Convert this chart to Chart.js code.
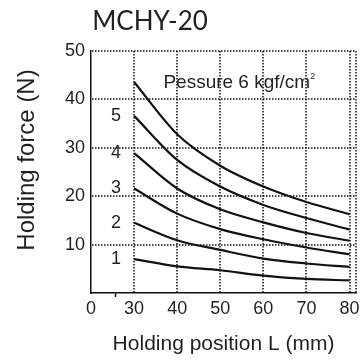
<!DOCTYPE html>
<html><head><meta charset="utf-8">
<script src="https://cdn.jsdelivr.net/npm/chart.js@4/dist/chart.umd.min.js"></script>
<style>html,body{margin:0;padding:0;background:#fff}#wrap{width:360px;height:360px;position:relative}</style>
</head><body><div id="wrap"><canvas id="c"></canvas></div>
<script>
// ---- data ----
const chartTitle = 'MCHY-20';
const positions = [30, 40, 50, 60, 70, 80];           // Holding position L (mm)
const force1 = [7.0, 5.5, 4.7, 3.6, 2.9, 2.6];
const force2 = [14.5, 10.9, 8.9, 7.1, 6.1, 5.4];
const force3 = [21.6, 16.4, 13.2, 11.1, 9.4, 8.0];
const force4 = [28.9, 21.6, 17.3, 14.6, 12.4, 10.8];
const force5 = [36.6, 27.5, 22.0, 18.2, 15.5, 13.1];
const force6 = [43.6, 32.8, 26.3, 22.0, 18.8, 16.3];
const curveNames = ['1', '2', '3', '4', '5', '6'];
const xTickValues = [20, 25.6, 30, 40, 50, 60, 70, 80, 81.5];
const xTickLabels = ['0', '', '30', '40', '50', '60', '70', '80', ''];
const yTickValues = [0, 10, 20, 30, 40, 50];
const pressureText = 'Pessure 6 kgf/cm';
const pressureSup = '2';
const xTitle = 'Holding position L (mm)';
const yTitle = 'Holding force (N)';

const allForces = [force1, force2, force3, force4, force5, force6];
const INK = '#231f20';
const NONE = 'rgba(0,0,0,0)';
const SANS = '"Liberation Sans", Arial, sans-serif';

const datasets = allForces.map((f, i) => ({
  label: curveNames[i],
  data: positions.map((x, j) => ({x, y: f[j]})),
  borderColor: '#111',
  borderWidth: 2.2,
  pointRadius: 0,
  fill: false,
  cubicInterpolationMode: 'monotone'
}));

const xTickMarkColors = xTickValues.map((v, i) => (i === 1 ? '#111' : NONE));

// dotted grid along the scales' own tick positions
const dottedGrid = {
  id: 'dottedGrid',
  beforeDatasetsDraw(chart) {
    const {ctx, chartArea: a} = chart;
    const xs = chart.scales.x, ys = chart.scales.y;
    ctx.save();
    ctx.strokeStyle = '#111';
    ctx.lineWidth = 1.5;
    ctx.setLineDash([1.5, 1.5]);
    xs.ticks.forEach((t, i) => {
      if (i < 2) return;
      const x = Math.round(xs.getPixelForValue(t.value));
      ctx.beginPath(); ctx.moveTo(x, a.top); ctx.lineTo(x, a.bottom); ctx.stroke();
    });
    ys.ticks.forEach((t, i) => {
      if (i === 0) return;
      const y = Math.round(ys.getPixelForValue(t.value));
      ctx.beginPath(); ctx.moveTo(a.left + 1, y); ctx.lineTo(a.right, y); ctx.stroke();
    });
    ctx.restore();
  }
};

const textPlugin = {
  id: 'texts',
  afterDraw(chart) {
    const ctx = chart.ctx;
    const xs = chart.scales.x, ys = chart.scales.y;
    ctx.save();
    ctx.fillStyle = INK;
    ctx.font = '26px Lato, "DejaVu Sans", sans-serif';
    ctx.textAlign = 'center';
    ctx.textBaseline = 'middle';
    ctx.fillText(chartTitle, 150, 22);
    ctx.save();
    ctx.translate(27, 160);
    ctx.rotate(-Math.PI / 2);
    ctx.font = '24px ' + SANS;
    ctx.fillText(yTitle, 0, 0);
    ctx.restore();
    ctx.font = '18px ' + SANS;
    ctx.textAlign = 'center';
    for (let i = 0; i < 5; i++) {
      ctx.fillText(curveNames[i], xs.getPixelForValue(25.8), ys.getPixelForValue(allForces[i][0]));
    }
    ctx.font = '19px ' + SANS;
    ctx.textAlign = 'left';
    ctx.textBaseline = 'alphabetic';
    const px = xs.getPixelForValue(36.8), py = ys.getPixelForValue(42.4);
    ctx.fillText(pressureText, px, py);
    const w = ctx.measureText(pressureText).width;
    ctx.font = '9px ' + SANS;
    ctx.fillText(pressureSup, px + w, py - 9);
    ctx.restore();
  }
};

new Chart(document.getElementById('c'), {
  type: 'line',
  data: { datasets },
  plugins: [dottedGrid, textPlugin],
  options: {
    responsive: true,
    maintainAspectRatio: false,
    animation: false,
    layout: { padding: { top: 51, right: 4, left: 0, bottom: 0 } },
    plugins: { legend: { display: false }, tooltip: { enabled: false }, title: { display: false } },
    scales: {
      x: {
        type: 'linear',
        min: 20, max: 81.5,
        afterBuildTicks: s => { s.ticks = xTickValues.map(v => ({ value: v })); },
        afterFit: s => { s.height = 67; },
        ticks: {
          autoSkip: false, maxRotation: 0, padding: 1,
          color: INK, font: { family: SANS, size: 18 },
          callback: (v, i) => xTickLabels[i]
        },
        grid: {
          drawOnChartArea: false,
          drawTicks: true, tickLength: 4, tickWidth: 1.5,
          tickColor: xTickMarkColors
        },
        border: { display: true, color: '#111', width: 1.5 },
        title: { display: true, text: xTitle, color: INK, font: { family: SANS, size: 21 }, padding: { top: 0, bottom: 3 } }
      },
      y: {
        min: 0, max: 50,
        afterBuildTicks: s => { s.ticks = yTickValues.map(v => ({ value: v })); },
        afterFit: s => { s.width = 91; },
        ticks: {
          padding: 6, color: INK, font: { family: SANS, size: 18 },
          callback: v => v === 0 ? '' : String(v)
        },
        grid: { drawOnChartArea: false, drawTicks: false },
        border: { display: true, color: '#111', width: 1.5 }
      }
    }
  }
});
</script>
</body></html>
